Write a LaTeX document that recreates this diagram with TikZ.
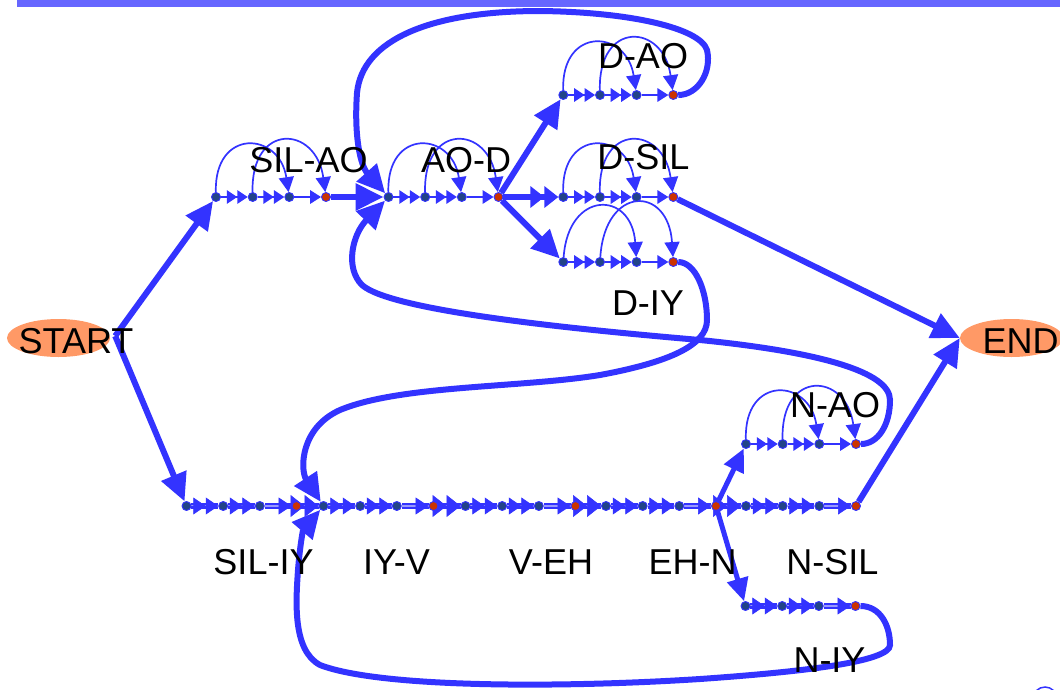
\documentclass[tikz,border=0pt]{standalone}
\usepackage{fontspec}
\setmainfont{Liberation Sans}
\usetikzlibrary{arrows.meta,shapes.geometric}
\definecolor{mb}{HTML}{3333FF}
\definecolor{lb}{HTML}{9999FF}
\definecolor{barc}{HTML}{6666FF}
\definecolor{salmon}{HTML}{FF9966}
\definecolor{dotc}{HTML}{224488}
\definecolor{redc}{HTML}{CC3300}
\pgfdeclarelayer{bg}
\pgfdeclarelayer{edges}
\pgfdeclarelayer{top}
\pgfsetlayers{bg,edges,main,top}
\begin{document}
\begin{tikzpicture}[x=1pt,y=-1pt,
  dot/.style={circle,fill=dotc,draw=mb,line width=0.9pt,minimum size=9pt,inner sep=0pt},
  rdot/.style={dot,fill=redc},
  lbl/.style={font=\fontsize{36}{40}\selectfont,inner sep=0pt,text=black},
  ell/.style={ellipse,fill=salmon,minimum width=103pt,minimum height=38pt,inner sep=0pt},
  tl2/.style={draw=mb,line width=1.8pt,-{Triangle[length=10.5pt,width=13.5pt]Triangle[length=10.5pt,width=13.5pt]}},
  tl1/.style={draw=mb,line width=1.8pt,-{Triangle[length=11pt,width=13.5pt]}},
  arcA/.style={draw=mb,line width=1.7pt,-{Triangle[length=15pt,width=15pt]}},
  dbl/.style={draw=mb,line width=1.8pt,double=lb,double distance=1.7pt},
  bt2/.style={draw=mb,line width=0.6pt,-{Triangle[length=12.5pt,width=17pt]Triangle[length=12.5pt,width=17pt]}},
  bt1/.style={draw=mb,line width=0.6pt,shorten <=14pt,-{Triangle[length=13pt,width=17pt]}},
  blt/.style={draw=mb,line width=0.6pt,-{Triangle[length=14pt,width=22pt]Triangle[length=14pt,width=22pt]}},
  big/.style={draw=mb,line width=6pt,-{Triangle[length=28pt,width=26pt]}},
  big2/.style={draw=mb,line width=6pt,-{Triangle[length=14pt,width=21pt]Triangle[length=14pt,width=21pt]}},
  mid/.style={draw=mb,line width=5pt,-{Triangle[length=23pt,width=21pt]}}
]
\useasboundingbox (0,0) rectangle (1060,689);
\fill[barc] (17,0) rectangle (1060,7);

% START / END
\begin{pgfonlayer}{bg}
\node[ell] (start) at (58.5,338) {};
\node[ell] (end) at (1011.5,338) {};
\end{pgfonlayer}
\coordinate (sv) at ([xshift=5pt,yshift=2pt]start.east);

% states
\foreach \p/\x/\y in {s/216/197, o/388.5/197, a/563.3/95, d/563.3/197, i/563.3/262, n/746/444,
                      b/186.5/506, c/323.5/506, e/465.5/506, h/606/506, m/746/506, q/745.5/606} {
  \node[dot] (\p1) at (\x,\y) {};
  \node[dot] (\p2) at (\x+36.7,\y) {};
  \node[dot] (\p3) at (\x+73.3,\y) {};
  \node[rdot] (\p4) at (\x+110,\y) {};
}

\begin{pgfonlayer}{edges}
% top chains
\foreach \p in {s,o,a,d,n} {
  \draw[tl2] (\p1) -- (\p2);
  \draw[tl2] (\p2) -- (\p3);
  \draw[tl1] (\p3) -- (\p4);
  \draw[arcA] (\p1) .. controls +(-2,-69) and +(-10,-66) .. (\p3);
  \draw[arcA] (\p2) .. controls +(-2,-75) and +(-10,-72) .. (\p4);
}
\draw[tl2] (i1) -- (i2);
\draw[tl2] (i2) -- (i3);
\draw[tl1] (i3) -- (i4);
\draw[arcA] (i1) .. controls +(5,-72) and +(-5,-72) .. (i3);
\draw[arcA] (i2) .. controls +(5,-77) and +(-5,-77) .. (i4);

% bottom chains
\foreach \p in {b,c,e,h,m,q} {
  \draw[dbl] (\p1) -- (\p2) (\p2) -- (\p3) (\p3) -- (\p4);
  \draw[bt2] (\p1) -- (\p2);
  \draw[bt2] (\p2) -- (\p3);
  \draw[bt1] (\p3) -- (\p4);
}
\foreach \u/\v in {b4/c1, c4/e1, e4/h1, h4/m1} {
  \draw[dbl] (\u) -- (\v);
  \draw[blt] (\u) -- (\v);
}

% main connectors
\draw[big] (sv) -- (s1);
\draw[big] (sv) -- (b1);
\draw[big] (s4) -- (o1);
\draw[big] (o4) -- (a1);
\draw[big2] (o4) -- (d1);
\draw[big] (o4) -- (i1);
\draw[big] (d4) -- (end.west);
\draw[big] (m4) -- (end.west);
\draw[mid] (h4) -- (n1);
\draw[mid] (h4) -- (q1);

% loops
\draw[big] (a4) .. controls (698,95) and (712,72) .. (707,50)
  .. controls (700,28) and (630,12) .. (540,11)
  .. controls (430,11) and (362,40) .. (357,93)
  .. controls (354,135) and (360,165) .. (o1);
\draw[big] (n4) .. controls (878,444) and (890,425) .. (890,400)
  .. controls (890,372) and (820,352) .. (700,340)
  .. controls (560,328) and (390,310) .. (362,285)
  .. controls (345,268) and (352,235) .. (o1);
\draw[big] (i4) .. controls (695,262) and (707,290) .. (707,320)
  .. controls (707,345) and (670,362) .. (600,375)
  .. controls (520,388) and (400,385) .. (340,410)
  .. controls (300,428) and (300,470) .. (c1);
\draw[big] (q4) .. controls (880,606) and (890,625) .. (890,645)
  .. controls (890,662) and (800,672) .. (700,679)
  .. controls (560,688) and (380,688) .. (320,665)
  .. controls (292,650) and (296,600) .. (298,570)
  .. controls (300,545) and (303,530) .. (c1);
\end{pgfonlayer}

\draw[mb,line width=1.5pt] (1045,699) circle (12);

% labels
\begin{pgfonlayer}{top}
\node[lbl] (tstart) at (76,341) {START};
\node[lbl] (tend) at (1020.5,341) {END};
\node[lbl] (lsa) at (308.5,160) {SIL-AO};
\node[lbl] (lao) at (466,160) {AO-D};
\node[lbl] (lda) at (643,56) {D-AO};
\node[lbl] (lds) at (643.5,157) {D-SIL};
\node[lbl] (ldi) at (648,303) {D-IY};
\node[lbl] (lna) at (835,405) {N-AO};
\node[lbl] (lsi) at (263.5,562) {SIL-IY};
\node[lbl] (liv) at (396.5,562) {IY-V};
\node[lbl] (lve) at (551,562) {V-EH};
\node[lbl] (len) at (692.5,562) {EH-N};
\node[lbl] (lns) at (832.5,562) {N-SIL};
\node[lbl] (lni) at (829.5,660) {N-IY};
\end{pgfonlayer}
\end{tikzpicture}
\end{document}
